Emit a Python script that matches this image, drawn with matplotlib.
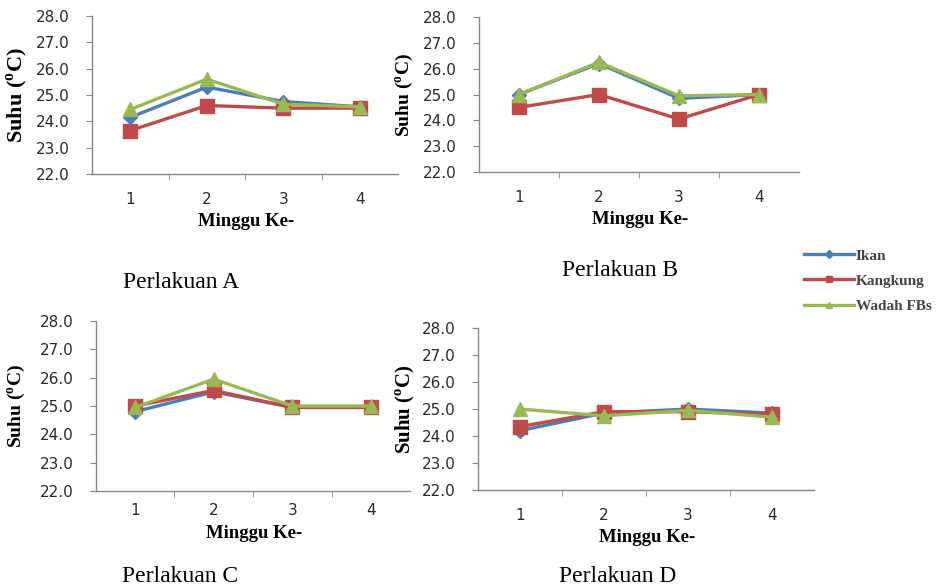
import numpy as np
import matplotlib
matplotlib.use('Agg')
import matplotlib.pyplot as plt

#### data ####
weeks = [1, 2, 3, 4]
series_names = ['Ikan', 'Kangkung', 'Wadah FBs']
panel_titles = ['Perlakuan A', 'Perlakuan B', 'Perlakuan C', 'Perlakuan D']

ikan_A = [24.15, 25.3, 24.75, 24.55]
kangkung_A = [23.65, 24.6, 24.5, 24.5]
wadah_A = [24.45, 25.6, 24.65, 24.55]

ikan_B = [25.0, 26.2, 24.85, 25.0]
kangkung_B = [24.5, 25.0, 24.05, 25.0]
wadah_B = [25.0, 26.25, 24.95, 25.0]

ikan_C = [24.8, 25.5, 24.95, 24.95]
kangkung_C = [25.0, 25.55, 24.95, 24.95]
wadah_C = [24.95, 25.95, 25.0, 25.0]

ikan_D = [24.2, 24.85, 25.0, 24.85]
kangkung_D = [24.35, 24.9, 24.9, 24.8]
wadah_D = [25.0, 24.75, 24.95, 24.7]

y_ticks = [22.0, 23.0, 24.0, 25.0, 26.0, 27.0, 28.0]

panels = [
    (ikan_A, kangkung_A, wadah_A),
    (ikan_B, kangkung_B, wadah_B),
    (ikan_C, kangkung_C, wadah_C),
    (ikan_D, kangkung_D, wadah_D),
]

colors = ['#4a7ebb', '#be4b48', '#98b954']
markers = ['D', 's', '^']
msizes = [7, 9.5, 9.5]

# axes rectangles in figure fraction (left, bottom, width, height)
rects = [
    (0.098, 0.704, 0.326, 0.269),
    (0.510, 0.7075, 0.341, 0.2635),
    (0.102, 0.165, 0.335, 0.289),
    (0.509, 0.1667, 0.358, 0.2753),
]
# label positions in pixels
ylab_x = [17, 405, 17, 405]
ylab_size = [16, 14, 14, 15]
xtick_pad = [13, 13, 9, 13]
xlab_pos = [(246, 222), (640, 220), (254, 533), (647, 537)]
title_pos = [(181, 283), (620, 271), (180, 576), (618, 576)]

W, H = 939, 588
fig = plt.figure(figsize=(W / 100, H / 100), dpi=100)
serif = 'Liberation Serif'

for i, (vals, rect) in enumerate(zip(panels, rects)):
    ax = fig.add_axes(rect)
    for s, name in enumerate(series_names):
        ax.plot(weeks, vals[s], color=colors[s], marker=markers[s],
                markersize=msizes[s], lw=2.4, label=name, zorder=3 + s)
    ax.set_xlim(0.5, 4.5)
    ax.set_ylim(22, 28)
    ax.set_yticks(y_ticks)
    ax.set_yticklabels(['{0:.1f}'.format(v) for v in y_ticks])
    ax.set_xticks(weeks)
    ax.set_xticks([1.5, 2.5, 3.5], minor=True)
    ax.tick_params(axis='x', which='major', length=0, pad=xtick_pad[i])
    ax.tick_params(axis='x', which='minor', length=4, direction='out',
                   color='#868686')
    ax.tick_params(axis='y', length=4, direction='out', color='#868686',
                   pad=12)
    ax.tick_params(labelsize=11, labelcolor='#2a2a2a')
    for sp in ['top', 'right']:
        ax.spines[sp].set_visible(False)
    for sp in ['left', 'bottom']:
        ax.spines[sp].set_color('#868686')
        ax.spines[sp].set_linewidth(1.0)

    fig.text(ylab_x[i] / W, rect[1] + rect[3] / 2, 'Suhu ($^{\\mathregular{o}}$C)',
             rotation=90, ha='center', va='center', fontsize=ylab_size[i],
             fontweight='bold', family=serif)
    fig.text(xlab_pos[i][0] / W, 1 - xlab_pos[i][1] / H, 'Minggu Ke-',
             ha='center', va='center', fontsize=13.5, fontweight='bold',
             family=serif)
    fig.text(title_pos[i][0] / W, 1 - title_pos[i][1] / H, panel_titles[i],
             ha='center', va='center', fontsize=17, family=serif)

# legend on the right, between the panel rows
handles = [plt.Line2D([], [], color=colors[s], lw=2.4, marker=markers[s],
                      markersize=4) for s in range(3)]
fig.legend(handles, series_names, loc='center left',
           bbox_to_anchor=(790 / W, 1 - 281 / H), frameon=False,
           prop={'family': serif, 'size': 11, 'weight': 'bold'},
           handlelength=3.3, labelspacing=0.75, handletextpad=0.1,
           labelcolor='#444444')

fig.savefig('out.png', dpi=100)
